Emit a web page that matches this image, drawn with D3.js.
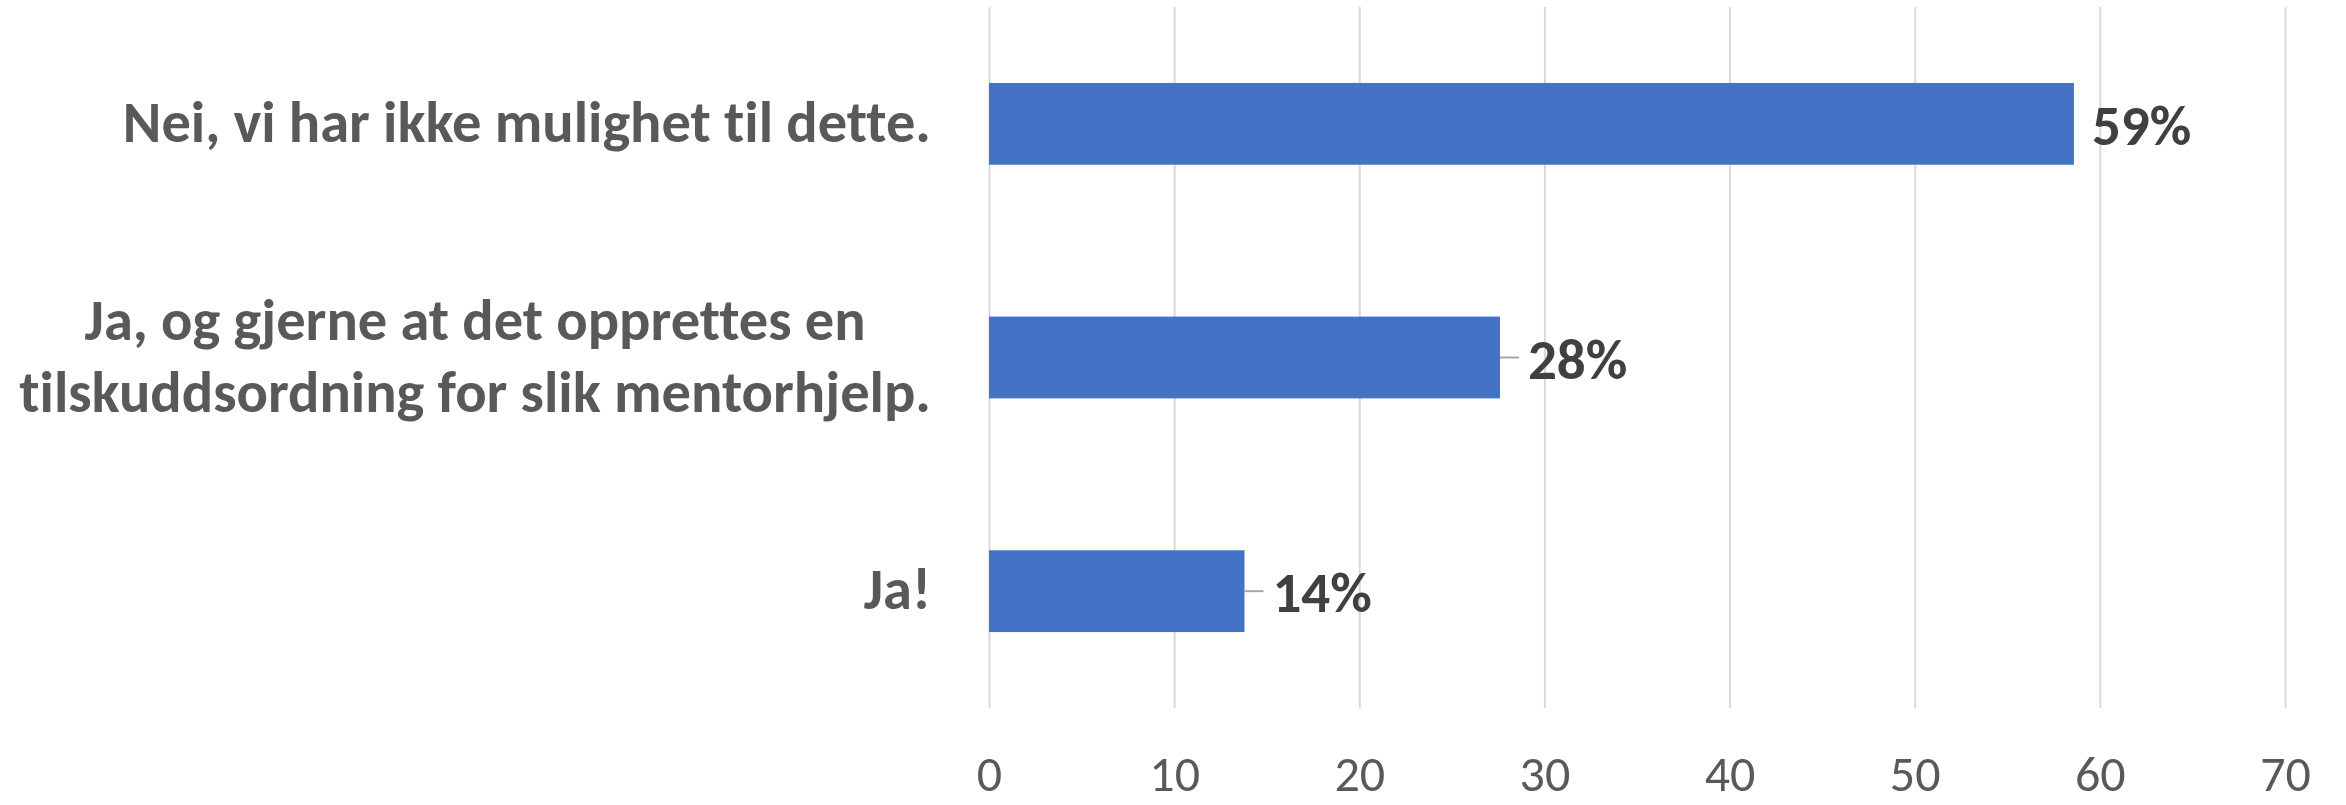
<!DOCTYPE html>
<html>
<head>
    <meta charset="utf-8">
    <title>Mentorhjelp</title>
    <script src="https://d3js.org/d3.v7.min.js"></script>
</head>
<body style="margin: 0; padding: 0; background: #fff;">
    <div id="container" style="width: 2346px; height: 805px;"></div>

    <script>
        // Data lest fra figuren (andel i prosent)
        var categories = [
            "Nei, vi har ikke mulighet til dette.",
            "Ja, og gjerne at det opprettes en\ntilskuddsordning for slik mentorhjelp.",
            "Ja!"
        ];
        var values = [58.6, 27.6, 13.8];
        var valueLabels = ["59%", "28%", "14%"];
        var xTicks = [0, 10, 20, 30, 40, 50, 60, 70];

        var width = 2346, height = 805;
        var fontFamily = "Carlito, Calibri, Lato, 'Open Sans', sans-serif";

        var svg = d3.select("#container").append("svg")
            .attr("width", width)
            .attr("height", height)
            .style("font-variant-ligatures", "none");

        var x = d3.scaleLinear()
            .domain([0, 70])
            .range([989, 2285]);

        var y = d3.scaleBand()
            .domain(categories)
            .range([7, 708])
            .paddingInner(0.65)
            .paddingOuter(0.325);

        // Rutenett og tallakse
        var xAxis = svg.append("g")
            .attr("transform", "translate(0,708)")
            .call(d3.axisBottom(x).tickValues(xTicks).tickSize(-(708 - 7)).tickFormat(d3.format("d")));

        xAxis.select(".domain").remove();
        xAxis.selectAll(".tick line")
            .attr("stroke", "#d9d9d9")
            .attr("stroke-width", 2);
        xAxis.selectAll(".tick text")
            .attr("y", 83)
            .attr("dy", 0)
            .style("font-family", fontFamily)
            .style("font-size", "50px")
            .style("fill", "#595959");

        // Stolper
        svg.selectAll("rect.bar")
            .data(values)
            .enter().append("rect")
            .attr("class", "bar")
            .attr("x", x(0))
            .attr("y", (d, i) => y(categories[i]))
            .attr("width", d => x(d) - x(0))
            .attr("height", y.bandwidth())
            .style("fill", "#4472C4");

        // Hjelpelinjer til datamerker
        svg.selectAll("line.leader")
            .data(values)
            .enter().append("line")
            .filter((d, i) => i > 0)
            .attr("class", "leader")
            .attr("x1", d => x(d))
            .attr("x2", d => x(d) + 19)
            .attr("y1", (d, i) => y(categories[i + 1]) + y.bandwidth() / 2)
            .attr("y2", (d, i) => y(categories[i + 1]) + y.bandwidth() / 2)
            .attr("stroke", "#a6a6a6")
            .attr("stroke-width", 2);

        // Datamerker
        svg.selectAll("text.value")
            .data(values)
            .enter().append("text")
            .attr("class", "value")
            .attr("x", (d, i) => x(d) + (i > 0 ? 28 : 18))
            .attr("y", (d, i) => y(categories[i]) + y.bandwidth() / 2 + 21)
            .style("font-family", fontFamily)
            .style("font-size", "57px")
            .style("font-weight", "bold")
            .style("fill", "#404040")
            .text((d, i) => valueLabels[i]);

        // Kategoritekster, høyrejustert blokk med sentrerte linjer
        var labelRight = 931, lineHeight = 72;
        categories.forEach(function (cat) {
            var lines = cat.split("\n");
            var cy = y(cat) + y.bandwidth() / 2;
            var g = svg.append("g");
            var texts = g.selectAll("text")
                .data(lines)
                .enter().append("text")
                .attr("text-anchor", "middle")
                .attr("y", (d, j) => cy + 18 + (j - (lines.length - 1) / 2) * lineHeight)
                .style("font-family", fontFamily)
                .style("font-size", "58.5px")
                .style("font-weight", "bold")
                .style("fill", "#595959")
                .text(d => d);
            var maxW = d3.max(texts.nodes(), n => n.getComputedTextLength());
            texts.attr("x", labelRight - maxW / 2);
        });
    </script>
</body>
</html>
